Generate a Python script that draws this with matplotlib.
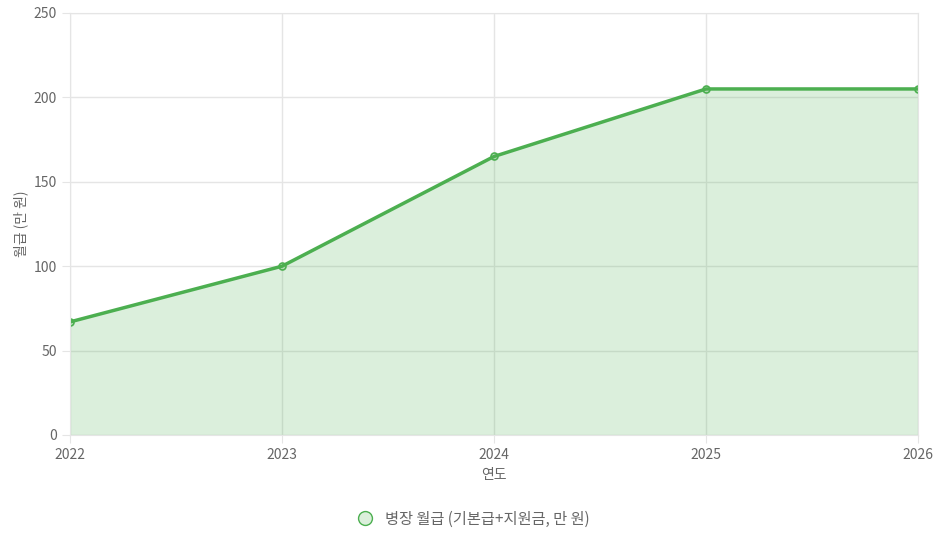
import matplotlib.pyplot as plt
from matplotlib.lines import Line2D

plt.rcParams['font.family'] = ['Noto Sans CJK KR', 'DejaVu Sans']

# Data
years = [2022, 2023, 2024, 2025, 2026]
salary = [67, 100, 165, 205, 205]
series_name = '병장 월급 (기본급+지원금, 만 원)'

green = '#4caf50'

fig = plt.figure(figsize=(9.39, 5.42), dpi=100)
ax = fig.add_axes([70 / 939, 1 - 435 / 542, 848 / 939, 422 / 542])

ax.fill_between(years, salary, 0, color=green, alpha=0.2, linewidth=0)
ax.plot(years, salary, color=green, linewidth=2.5, marker='o', markersize=5,
        markerfacecolor=(0.3, 0.69, 0.31, 0.2), markeredgecolor=green, markeredgewidth=1.2)

ax.set_xlim(2022, 2026)
ax.set_ylim(0, 250)
ax.set_xticks(years)
ax.set_yticks(range(0, 251, 50))
ax.grid(True, color='#e5e5e5', linewidth=1)
ax.set_axisbelow(True)
for s in ax.spines.values():
    s.set_color('#e5e5e5')
ax.tick_params(colors='#666666', labelsize=10, length=6, color='#e5e5e5')

ax.set_xlabel('연도', color='#666666', fontsize=10)
ax.set_ylabel('월급 (만 원)', color='#666666', fontsize=10)

handle = Line2D([], [], linestyle='none', marker='o', markersize=10,
                markerfacecolor=(0.3, 0.69, 0.31, 0.2), markeredgecolor=green)
fig.legend([handle], [series_name], loc='center', bbox_to_anchor=(0.5, 1 - 519 / 542),
           frameon=False, fontsize=11, labelcolor='#666666', handletextpad=0.3)

fig.savefig('out.png', dpi=100)
